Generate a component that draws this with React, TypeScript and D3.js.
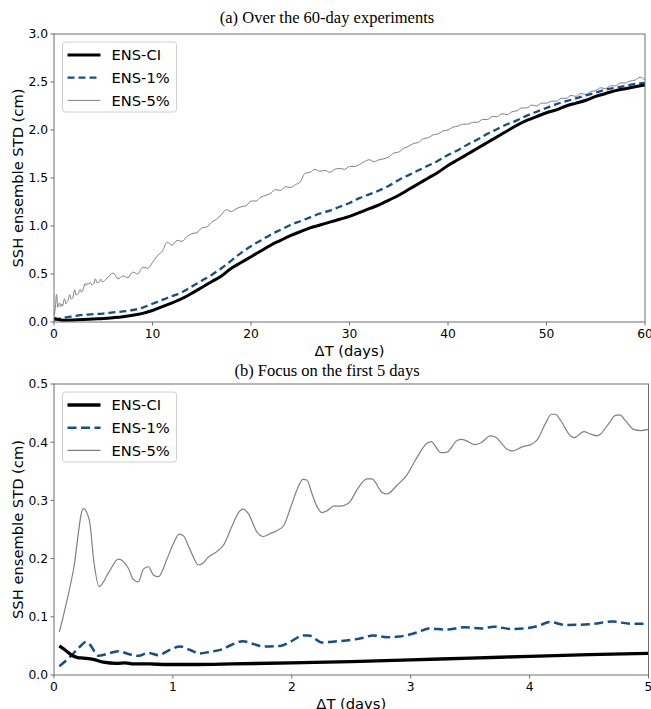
import React from "react";
import * as d3 from "d3";

// ---------- Data ----------
// Panel (a): 60-day experiments
const aTimes = d3.range(0, 61, 1);
const aCI = [
  0.04, 0.018, 0.021, 0.026, 0.032, 0.037, 0.045, 0.055, 0.07, 0.09,
  0.12, 0.16, 0.2, 0.245, 0.3, 0.36, 0.42, 0.48, 0.56, 0.62,
  0.68, 0.74, 0.8, 0.85, 0.9, 0.94, 0.98, 1.01, 1.04, 1.07,
  1.1, 1.14, 1.18, 1.22, 1.27, 1.32, 1.38, 1.44, 1.5, 1.56,
  1.63, 1.69, 1.75, 1.81, 1.87, 1.93, 1.99, 2.05, 2.1, 2.14,
  2.18, 2.21, 2.25, 2.28, 2.31, 2.35, 2.38, 2.41, 2.43, 2.45,
  2.47,
];
const a1pct = [
  0.02, 0.045, 0.06, 0.075, 0.082, 0.088, 0.1, 0.11, 0.125, 0.15,
  0.19, 0.23, 0.27, 0.31, 0.37, 0.43, 0.49, 0.56, 0.64, 0.72,
  0.79, 0.85, 0.91, 0.96, 1.01, 1.05, 1.09, 1.13, 1.16, 1.2,
  1.24, 1.29, 1.33, 1.37, 1.42, 1.48, 1.53, 1.58, 1.63, 1.68,
  1.74, 1.79, 1.85, 1.9, 1.96, 2.01, 2.06, 2.1, 2.15, 2.19,
  2.23, 2.27, 2.3, 2.33, 2.36, 2.39, 2.42, 2.44, 2.46, 2.48,
  2.49,
];
// ENS-5% after day 5 (half-day sampling from 5.5 to 60)
const aLateTimes = d3.range(0, 110).map((i) => 5.5 + i * 0.5);
const a5pctLate = [
  0.47, 0.51, 0.45, 0.48, 0.46, 0.52, 0.5, 0.57, 0.56, 0.62,
  0.69, 0.74, 0.83, 0.8, 0.85, 0.84, 0.89, 0.92, 0.93, 0.98,
  0.99, 1.04, 1.07, 1.12, 1.17, 1.15, 1.18, 1.2, 1.21, 1.26,
  1.26, 1.3, 1.32, 1.34, 1.38, 1.37, 1.41, 1.4, 1.43, 1.46,
  1.55, 1.56, 1.59, 1.57, 1.58, 1.56, 1.59, 1.6, 1.59, 1.62,
  1.62, 1.64, 1.67, 1.69, 1.67, 1.69, 1.7, 1.72, 1.76, 1.77,
  1.81, 1.83, 1.86, 1.87, 1.91, 1.92, 1.95, 1.96, 1.99, 2.0,
  2.03, 2.04, 2.06, 2.06, 2.08, 2.08, 2.11, 2.11, 2.14, 2.14,
  2.17, 2.16, 2.19, 2.2, 2.23, 2.23, 2.26, 2.25, 2.28, 2.28,
  2.3, 2.3, 2.33, 2.33, 2.36, 2.35, 2.38, 2.37, 2.4, 2.41,
  2.44, 2.43, 2.46, 2.46, 2.49, 2.49, 2.51, 2.52, 2.55, 2.52,
];

// Panel (b): first 5 days
const b5Times = [
  0.045, 0.084, 0.163, 0.247, 0.297, 0.337, 0.379, 0.457, 0.541, 0.626,
  0.668, 0.71, 0.752, 0.794, 0.836, 0.878, 0.948, 1.004, 1.055, 1.089,
  1.145, 1.215, 1.252, 1.299, 1.369, 1.425, 1.496, 1.552, 1.589, 1.636,
  1.706, 1.762, 1.818, 1.874, 1.93, 1.987, 2.043, 2.093, 2.127, 2.169,
  2.211, 2.253, 2.295, 2.351, 2.407, 2.449, 2.49, 2.548, 2.632, 2.674,
  2.758, 2.8, 2.885, 2.969, 3.039, 3.137, 3.171, 3.255, 3.306, 3.39,
  3.432, 3.544, 3.592, 3.67, 3.712, 3.811, 3.853, 3.937, 4.021, 4.063,
  4.133, 4.183, 4.217, 4.259, 4.343, 4.377, 4.456, 4.512, 4.568, 4.596,
  4.666, 4.722, 4.758, 4.806, 4.876, 4.933, 5.0,
];
const b5pct = [
  0.074, 0.106, 0.18, 0.286, 0.266, 0.192, 0.152, 0.175, 0.199, 0.183,
  0.164, 0.16, 0.182, 0.186, 0.172, 0.169, 0.198, 0.226, 0.242, 0.239,
  0.215, 0.189, 0.192, 0.203, 0.212, 0.223, 0.255, 0.279, 0.285, 0.277,
  0.246, 0.238, 0.243, 0.248, 0.256, 0.286, 0.318, 0.336, 0.335, 0.312,
  0.29, 0.279, 0.282, 0.29, 0.29, 0.292, 0.298, 0.318, 0.337, 0.337,
  0.314, 0.311, 0.326, 0.344, 0.369, 0.398, 0.401, 0.382, 0.383, 0.403,
  0.405, 0.396, 0.399, 0.411, 0.409, 0.388, 0.385, 0.392, 0.397, 0.404,
  0.432, 0.448, 0.448, 0.438, 0.411, 0.408, 0.418, 0.414, 0.411, 0.414,
  0.432, 0.446, 0.447, 0.437, 0.422, 0.42, 0.422,
];
const b1Times = [
  0.045, 0.135, 0.219, 0.27, 0.303, 0.373, 0.443, 0.541, 0.626, 0.71,
  0.794, 0.878, 0.962, 1.061, 1.145, 1.223, 1.313, 1.412, 1.496, 1.589,
  1.679, 1.762, 1.903, 1.987, 2.099, 2.141, 2.253, 2.379, 2.49, 2.6,
  2.68, 2.8, 2.9, 3.0, 3.08, 3.15, 3.3, 3.45, 3.6, 3.7,
  3.85, 4.0, 4.08, 4.17, 4.3, 4.5, 4.7, 4.85, 5.0,
];
const b1pct = [
  0.015, 0.031, 0.049, 0.057, 0.052, 0.033, 0.036, 0.041, 0.036, 0.033,
  0.038, 0.034, 0.042, 0.049, 0.043, 0.037, 0.04, 0.044, 0.052, 0.058,
  0.053, 0.049, 0.05, 0.057, 0.068, 0.068, 0.056, 0.058, 0.06, 0.064,
  0.068, 0.065, 0.066, 0.07, 0.075, 0.08, 0.078, 0.082, 0.08, 0.083,
  0.079, 0.081, 0.085, 0.091, 0.086, 0.087, 0.092, 0.088, 0.088,
];
const bCITimes = [
  0.045, 0.093, 0.149, 0.2, 0.247, 0.331, 0.415, 0.527, 0.6, 0.668,
  0.8, 0.948, 1.2, 1.5, 2.0, 2.5, 3.0, 3.5, 4.0, 4.5, 5.0,
];
const bCI = [
  0.05, 0.043, 0.034, 0.03, 0.029, 0.027, 0.022, 0.02, 0.021, 0.019,
  0.019, 0.018, 0.018, 0.019, 0.021, 0.023, 0.026, 0.029, 0.032, 0.035, 0.037,
];

const aXTicks = [0, 10, 20, 30, 40, 50, 60];
const aYTicks = [0, 0.5, 1.0, 1.5, 2.0, 2.5, 3.0];
const bXTicks = [0, 1, 2, 3, 4, 5];
const bYTicks = [0, 0.1, 0.2, 0.3, 0.4, 0.5];
const seriesNames = ["ENS-CI", "ENS-1%", "ENS-5%"];
const titles = ["(a) Over the 60-day experiments", "(b) Focus on the first 5 days"];

// ---------- Styles ----------
const SANS = "'DejaVu Sans', sans-serif";
const SERIF = "'Liberation Serif', 'DejaVu Serif', serif";
const SPINE = "#6e6e6e";
const BLUE = "#144e8c";
const GRAY = "#808080";

type Series = { xs: number[]; ys: number[]; color: string; width: number; dash?: string };

function zip(xs: number[], ys: number[]): [number, number][] {
  const n = Math.min(xs.length, ys.length);
  return d3.range(n).map((i) => [xs[i], ys[i]] as [number, number]);
}

function Panel(props: {
  left: number; right: number; top: number; bottom: number;
  xMax: number; yMax: number; xTicks: number[]; yTicks: number[];
  series: Series[]; title: string; titleY: number; legendW: number[]; legendDash: string;
}) {
  const { left, right, top, bottom, xMax, yMax, xTicks, yTicks, series, title } = props;
  const x = d3.scaleLinear().domain([0, xMax]).range([left, right]);
  const y = d3.scaleLinear().domain([0, yMax]).range([bottom, top]);
  const line = d3.line<[number, number]>().x((d) => x(d[0])).y((d) => y(d[1])).curve(d3.curveMonotoneX);
  const fmt = d3.format(".1f");
  const clipId = "clip" + top;
  const lx = left + 8.5, ly = top + 8;
  return (
    <g>
      <defs>
        <clipPath id={clipId}>
          <rect x={left} y={top} width={right - left} height={bottom - top} />
        </clipPath>
      </defs>
      <text x={327} y={props.titleY} textAnchor="middle" fontFamily={SERIF} fontSize={16.5} fill="#000">{title}</text>
      <g clipPath={`url(#${clipId})`}>
        {series.slice().reverse().map((s, i) => (
          <path key={i} d={line(zip(s.xs, s.ys)) || ""} fill="none" stroke={s.color}
            strokeWidth={s.width} strokeDasharray={s.dash} strokeLinejoin="round" />
        ))}
      </g>
      <rect x={left} y={top} width={right - left} height={bottom - top} fill="none" stroke={SPINE} strokeWidth={1} />
      {xTicks.map((t) => (
        <g key={"x" + t}>
          <line x1={x(t)} x2={x(t)} y1={bottom} y2={bottom + 3.5} stroke={SPINE} />
          <text x={x(t)} y={bottom + 16} textAnchor="middle" fontFamily={SANS} fontSize={12.3} fill="#000">{t}</text>
        </g>
      ))}
      {yTicks.map((t) => (
        <g key={"y" + t}>
          <line x1={left - 3.5} x2={left} y1={y(t)} y2={y(t)} stroke={SPINE} />
          <text x={left - 6} y={y(t) + 4.4} textAnchor="end" fontFamily={SANS} fontSize={12.3} fill="#000">{fmt(t)}</text>
        </g>
      ))}
      <text x={(left + right) / 2} y={bottom + 34} textAnchor="middle" fontFamily={SANS} fontSize={14.7} fill="#000">ΔT (days)</text>
      <text transform={`translate(23,${(top + bottom) / 2}) rotate(-90)`} textAnchor="middle" fontFamily={SANS} fontSize={14.7} fill="#000">SSH ensemble STD (cm)</text>
      {/* legend */}
      <rect x={lx} y={ly} width={114} height={70} rx={3} fill="#fff" fillOpacity={0.8} stroke="#d0d0d0" strokeWidth={1} />
      {series.map((s, i) => (
        <g key={"l" + i}>
          <line x1={lx + 5} x2={lx + 38} y1={ly + 13 + i * 22.7} y2={ly + 13 + i * 22.7}
            stroke={s.color} strokeWidth={props.legendW[i]} strokeDasharray={i === 1 ? props.legendDash : undefined} />
          <text x={lx + 49} y={ly + 18.2 + i * 22.7} fontFamily={SANS} fontSize={14.7} fill="#000">{seriesNames[i]}</text>
        </g>
      ))}
    </g>
  );
}

export default function App() {
  const aGrayT = b5Times.concat(aLateTimes);
  const aGrayV = b5pct.concat(a5pctLate);
  const seriesA: Series[] = [
    { xs: aTimes, ys: aCI, color: "#000", width: 3 },
    { xs: aTimes, ys: a1pct, color: BLUE, width: 2.3, dash: "7,4" },
    { xs: aGrayT, ys: aGrayV, color: GRAY, width: 1 },
  ];
  const seriesB: Series[] = [
    { xs: bCITimes, ys: bCI, color: "#000", width: 3.3 },
    { xs: b1Times, ys: b1pct, color: BLUE, width: 2.5, dash: "9,4.5" },
    { xs: b5Times, ys: b5pct, color: GRAY, width: 1.2 },
  ];
  return (
    <svg width={651} height={709} viewBox="0 0 651 709"
      style={{ position: "absolute", left: 0, top: 0, background: "#fff" }}>
      <rect width={651} height={709} fill="#fff" />
      <Panel left={54} right={645} top={34} bottom={322} xMax={60} yMax={3}
        xTicks={aXTicks} yTicks={aYTicks} series={seriesA} title={titles[0]} titleY={23}
        legendW={[3, 2.3, 1]} legendDash="7,4" />
      <Panel left={54} right={648.5} top={384} bottom={675} xMax={5} yMax={0.5}
        xTicks={bXTicks} yTicks={bYTicks} series={seriesB} title={titles[1]} titleY={376}
        legendW={[3.5, 2.5, 1.2]} legendDash="9,4.5" />
    </svg>
  );
}
